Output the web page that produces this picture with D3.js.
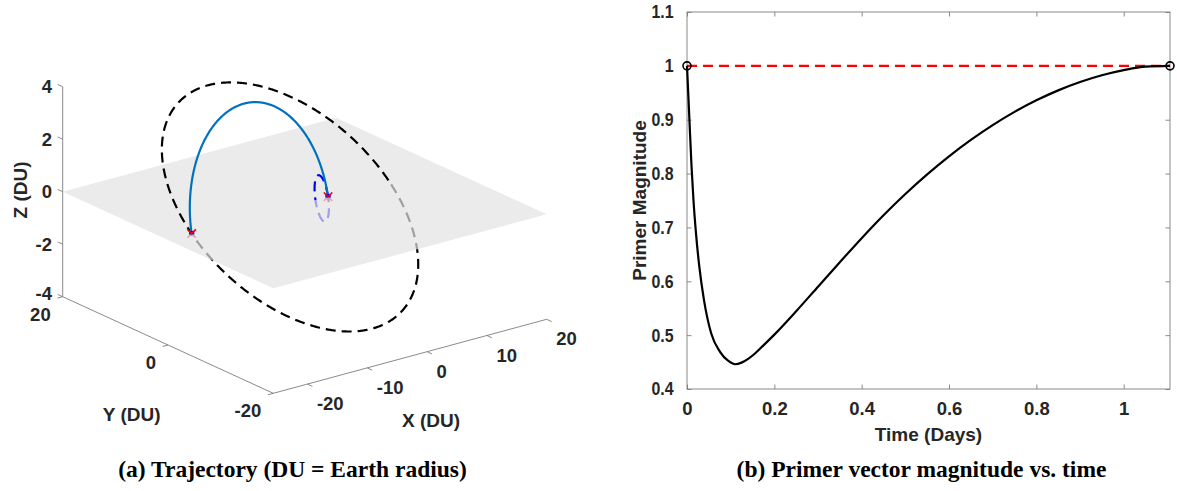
<!DOCTYPE html>
<html>
<head>
<meta charset="utf-8">
<script src="https://cdn.jsdelivr.net/npm/d3@7"></script>
<style>
  html, body { margin: 0; padding: 0; background: #fff; }
  svg { display: block; }
  text { font-family: "Liberation Sans", Arial, Helvetica, sans-serif; font-weight: bold; fill: #262626; }
  .tick-label { font-size: 18.5px; }
  .axis-title { font-size: 19px; }
  .caption { font-family: "Liberation Serif", "Times New Roman", serif; font-size: 23.5px; fill: #000; }
</style>
</head>
<body>
<script>
// ---------------- (a) trajectory, all lengths in DU ----------------
const xLim = [-25.7, 20];
const yLim = [-20, 20];
const zLim = [-4, 4];
const xTicks = [-20, -10, 0, 10, 20];
const yTicks = [-20, 0, 20];
const zTicks = [-4, -2, 0, 2, 4];

// each orbit: centre plus two conjugate semi-axis vectors
const parkCenter = [0, 0, 0];
const parkU = [1.05, 0, 0];
const parkV = [0, 0.66, 0.82];

const targetCenter = [-5.3, 0, 0];
const targetU = [16.45, 0, 0];
const targetV = [0, 15.6, 3.2];

const transferCenter = [-10.35, 0, 0];
const transferU = [11.4, 0, 0];
const transferV = [0, 3.02, 3.97];
const transferSweep = [0, 180];          // degrees, periapsis -> apoapsis

const burnPoints = [[1.05, 0, 0], [-21.75, 0, 0]];

// ---------------- (b) primer vector magnitude ----------------
const timeDays = [0, 0.0035, 0.0069, 0.0104, 0.0148, 0.0206, 0.0282, 0.0389, 0.0555, 0.0756,
  0.0947, 0.110, 0.125, 0.140, 0.155, 0.175, 0.200, 0.250, 0.300, 0.350, 0.400, 0.450,
  0.500, 0.550, 0.600, 0.650, 0.700, 0.750, 0.800, 0.850, 0.900, 0.950, 1.000, 1.050, 1.106];
const primerMag = [1.0, 0.937, 0.875, 0.813, 0.751, 0.689, 0.627, 0.565, 0.503, 0.469,
  0.452, 0.446, 0.449, 0.456, 0.4655, 0.481, 0.501, 0.5445, 0.590, 0.6355, 0.680, 0.7225,
  0.762, 0.7985, 0.832, 0.8625, 0.890, 0.9145, 0.936, 0.9545, 0.970, 0.9825, 0.992, 0.9985, 1.0];
const tLim = [0, 1.106];
const pLim = [0.4, 1.1];
const tTicks = [0, 0.2, 0.4, 0.6, 0.8, 1];
const pTicks = [0.4, 0.5, 0.6, 0.7, 0.8, 0.9, 1.0, 1.1];
const impulseLevel = 1;

const W = 1177, H = 491;
const svg = d3.select("body").append("svg").attr("width", W).attr("height", H);

// ================= panel (a): oblique 3-D view =================
const fx = d3.scaleLinear().domain(xLim).range([0, 1]);
const fy = d3.scaleLinear().domain([yLim[1], yLim[0]]).range([0, 1]);
const fz = d3.scaleLinear().domain(zLim).range([0, 1]);
// screen anchor of the (xmin, ymax, zmin) corner and the three box edges
const box = { ox: 62.7, oy: 296.7, xv: [273.4, -74], yv: [210.6, 96.6], zv: [0, -210] };

function proj(p) {
  const a = fx(p[0]), b = fy(p[1]), c = fz(p[2]);
  return [box.ox + a * box.xv[0] + b * box.yv[0] + c * box.zv[0],
          box.oy + a * box.xv[1] + b * box.yv[1] + c * box.zv[1]];
}
const dist = (a, b) => Math.hypot(a[0] - b[0], a[1] - b[1]);
const unit = v => { const n = Math.hypot(v[0], v[1]); return [v[0] / n, v[1] / n]; };

function sampleEllipse(c, u, v, deg0, deg1, n) {
  return d3.range(n + 1).map(i => {
    const t = (deg0 + (deg1 - deg0) * i / n) * Math.PI / 180;
    return c.map((ck, k) => ck + u[k] * Math.cos(t) + v[k] * Math.sin(t));
  });
}

// split a 3-D polyline into screen runs above / below z = 0,
// keeping the running length so dash patterns stay continuous
function splitByPlane(pts) {
  const runs = [];
  let run = null, total = 0, prevS = null, prevP = null;
  pts.forEach(p => {
    const s = proj(p), below = p[2] < 0;
    if (!run) {
      run = { below, offset: 0, pts: [s] };
      runs.push(run);
    } else if (below !== run.below) {
      const f = prevP[2] / (prevP[2] - p[2]);
      const c = proj(prevP.map((v, k) => v + (p[k] - v) * f));
      total += dist(prevS, c);
      run.pts.push(c);
      run = { below, offset: total, pts: [c] };
      runs.push(run);
      total += dist(c, s);
      run.pts.push(s);
    } else {
      total += dist(prevS, s);
      run.pts.push(s);
    }
    prevS = s; prevP = p;
  });
  return runs;
}

const gA = svg.append("g");
const axisColor = "#7d7d7d";

// box edges carrying the ticks
const axesG = gA.append("g").attr("stroke", axisColor).attr("stroke-width", 0.9).attr("fill", "none");
const c000 = proj([xLim[0], yLim[1], zLim[0]]);
const cZ = proj([xLim[0], yLim[1], zLim[1]]);
axesG.append("line").attr("x1", c000[0]).attr("y1", c000[1]).attr("x2", cZ[0]).attr("y2", cZ[1]);
const cY = proj([xLim[0], yLim[0], zLim[0]]);
axesG.append("line").attr("x1", c000[0]).attr("y1", c000[1]).attr("x2", cY[0]).attr("y2", cY[1]);
const cX = proj([xLim[1], yLim[0], zLim[0]]);
axesG.append("line").attr("x1", cY[0]).attr("y1", cY[1]).attr("x2", cX[0]).attr("y2", cX[1]);

const tickLen = 5.5;
const dirPlusY = unit([-box.yv[0], -box.yv[1]]);
const dirMinusX = unit([-box.xv[0], -box.xv[1]]);
const dirMinusY = unit([box.yv[0], box.yv[1]]);

zTicks.forEach(z => {
  const p = proj([xLim[0], yLim[1], z]);
  axesG.append("line").attr("x1", p[0]).attr("y1", p[1])
    .attr("x2", p[0] + dirPlusY[0] * tickLen).attr("y2", p[1] + dirPlusY[1] * tickLen);
  // the bottom label is nudged up so it clears the y-axis "20"
  const lift = z === zLim[0] ? 3 : 0;
  gA.append("text").attr("class", "tick-label").attr("text-anchor", "end")
    .attr("x", p[0] - 10.7).attr("y", p[1] - lift).attr("dy", "0.36em").text(z);
});
yTicks.forEach(y => {
  const p = proj([xLim[0], y, zLim[0]]);
  axesG.append("line").attr("x1", p[0]).attr("y1", p[1])
    .attr("x2", p[0] + dirMinusX[0] * tickLen).attr("y2", p[1] + dirMinusX[1] * tickLen);
  gA.append("text").attr("class", "tick-label").attr("text-anchor", "end")
    .attr("x", p[0] - 12).attr("y", p[1] + 17.5).attr("dy", "0.36em").text(y);
});
xTicks.forEach(x => {
  const p = proj([x, yLim[0], zLim[0]]);
  axesG.append("line").attr("x1", p[0]).attr("y1", p[1])
    .attr("x2", p[0] + dirMinusY[0] * tickLen).attr("y2", p[1] + dirMinusY[1] * tickLen);
  gA.append("text").attr("class", "tick-label").attr("text-anchor", "start")
    .attr("x", p[0] + 9.5).attr("y", p[1] + 19.5).attr("dy", "0.36em").text(x);
});

gA.append("text").attr("class", "axis-title").attr("text-anchor", "middle")
  .attr("x", 431).attr("y", 420).attr("dy", "0.36em").text("X (DU)");
gA.append("text").attr("class", "axis-title").attr("text-anchor", "middle")
  .attr("x", 131.7).attr("y", 414).attr("dy", "0.36em").text("Y (DU)");
gA.append("text").attr("class", "axis-title").attr("text-anchor", "middle")
  .attr("transform", "translate(20,190) rotate(-90)").attr("dy", "0.36em").text("Z (DU)");

const under = gA.append("g");
const planeLayer = gA.append("g");
const over = gA.append("g");

const line = d3.line();
const dash = "10,6";

function drawOrbit(pts, color, width, dashed) {
  splitByPlane(pts).forEach(r => {
    (r.below ? under : over).append("path")
      .attr("d", line(r.pts))
      .attr("fill", "none")
      .attr("stroke", color)
      .attr("stroke-width", width)
      .attr("stroke-linecap", "butt")
      .attr("stroke-dasharray", dashed ? dash : null)
      .attr("stroke-dashoffset", dashed ? r.offset : null);
  });
}

drawOrbit(sampleEllipse(targetCenter, targetU, targetV, 0, 360, 720), "#000000", 2.2, true);
drawOrbit(sampleEllipse(parkCenter, parkU, parkV, 0, 360, 360), "#0000ff", 2.2, true);
drawOrbit(sampleEllipse(transferCenter, transferU, transferV, transferSweep[0], transferSweep[1], 360), "#0072bd", 2.2, false);

// equatorial reference plane z = 0
const planeCorners = [[xLim[0], yLim[1], 0], [xLim[1], yLim[1], 0], [xLim[1], yLim[0], 0], [xLim[0], yLim[0], 0]].map(proj);
planeLayer.append("path")
  .attr("d", "M" + planeCorners.map(p => p.join(",")).join("L") + "Z")
  .attr("fill", "rgb(227,227,227)")
  .attr("fill-opacity", 0.706)
  .attr("stroke", "none");

// impulse markers: lower half sits beneath the plane
const mk = 4.2, sq = 2.6;
burnPoints.forEach(b => {
  const p = proj(b);
  const gu = under.append("g");
  gu.append("rect").attr("x", p[0] - sq).attr("y", p[1] - sq).attr("width", 2 * sq).attr("height", 2 * sq).attr("fill", "#0000ff");
  gu.append("path").attr("d", `M${p[0] - mk},${p[1] - mk}L${p[0] + mk},${p[1] + mk}M${p[0] + mk},${p[1] - mk}L${p[0] - mk},${p[1] + mk}`)
    .attr("stroke", "#ff0000").attr("stroke-width", 1.5).attr("fill", "none");
  const go = over.append("g");
  go.append("rect").attr("x", p[0] - sq).attr("y", p[1] - sq).attr("width", 2 * sq).attr("height", sq + 0.8).attr("fill", "#0000ff");
  go.append("path").attr("d", `M${p[0] - mk},${p[1] - mk}L${p[0]},${p[1]}L${p[0] + mk},${p[1] - mk}`)
    .attr("stroke", "#ff0000").attr("stroke-width", 1.5).attr("fill", "none");
});

// ================= panel (b): primer magnitude vs time =================
const plot = { left: 687, right: 1170, top: 12, bottom: 389 };
const xB = d3.scaleLinear().domain(tLim).range([plot.left, plot.right]);
const yB = d3.scaleLinear().domain(pLim).range([plot.bottom, plot.top]);
const gB = svg.append("g").style("color", "#262626");
const fmt = d3.format("~g");

gB.append("g").attr("transform", `translate(0,${plot.bottom})`)
  .call(d3.axisBottom(xB).tickValues(tTicks).tickSizeInner(-4.5).tickSizeOuter(0).tickPadding(12.5).tickFormat(fmt))
  .call(g => g.select(".domain").remove());
gB.append("g").attr("transform", `translate(0,${plot.top})`)
  .call(d3.axisTop(xB).tickValues(tTicks).tickSizeInner(-4.5).tickSizeOuter(0).tickFormat(""))
  .call(g => g.select(".domain").remove());
const yAxisG = gB.append("g").attr("transform", `translate(${plot.left},0)`)
  .call(d3.axisLeft(yB).tickValues(pTicks).tickSizeInner(-4.5).tickSizeOuter(0).tickPadding(13.5).tickFormat(fmt))
  .call(g => g.select(".domain").remove());
gB.append("g").attr("transform", `translate(${plot.right},0)`)
  .call(d3.axisRight(yB).tickValues(pTicks).tickSizeInner(-4.5).tickSizeOuter(0).tickFormat(""))
  .call(g => g.select(".domain").remove());
gB.selectAll(".tick text").attr("class", "tick-label");
gB.selectAll(".tick line").attr("stroke", "#7d7d7d").attr("stroke-width", 0.9);
// slightly narrower y tick labels, right edge kept in place
const ySquash = 0.86;
yAxisG.selectAll(".tick text")
  .attr("x", -13.5 / ySquash)
  .attr("transform", `scale(${ySquash},1)`);

gB.append("rect")
  .attr("x", plot.left).attr("y", plot.top)
  .attr("width", plot.right - plot.left).attr("height", plot.bottom - plot.top)
  .attr("fill", "none").attr("stroke", "#7d7d7d").attr("stroke-width", 0.9);

gB.append("line")
  .attr("x1", xB(tLim[0])).attr("y1", yB(impulseLevel))
  .attr("x2", xB(tLim[1])).attr("y2", yB(impulseLevel))
  .attr("stroke", "#ff0000").attr("stroke-width", 2.2).attr("stroke-dasharray", dash);

const primerLine = d3.line()
  .x((d, i) => xB(timeDays[i]))
  .y(d => yB(d))
  .curve(d3.curveMonotoneX);
gB.append("path").attr("d", primerLine(primerMag))
  .attr("fill", "none").attr("stroke", "#000").attr("stroke-width", 2.2);

[[tLim[0], impulseLevel], [tLim[1], impulseLevel]].forEach(d => {
  gB.append("circle").attr("cx", xB(d[0])).attr("cy", yB(d[1])).attr("r", 4)
    .attr("fill", "none").attr("stroke", "#000").attr("stroke-width", 1.6);
});

gB.append("text").attr("class", "axis-title").attr("text-anchor", "middle")
  .attr("x", (plot.left + plot.right) / 2).attr("y", 434).attr("dy", "0.36em").text("Time (Days)");
gB.append("text").attr("class", "axis-title").attr("text-anchor", "middle")
  .attr("transform", `translate(639,${(plot.top + plot.bottom) / 2}) rotate(-90)`)
  .attr("dy", "0.36em").text("Primer Magnitude");

// ================= captions =================
svg.append("text").attr("class", "caption").attr("text-anchor", "middle")
  .attr("x", 292.5).attr("y", 477).text("(a) Trajectory (DU = Earth radius)");
svg.append("text").attr("class", "caption").attr("text-anchor", "middle")
  .attr("x", 921.5).attr("y", 477).text("(b) Primer vector magnitude vs. time");
</script>
</body>
</html>
